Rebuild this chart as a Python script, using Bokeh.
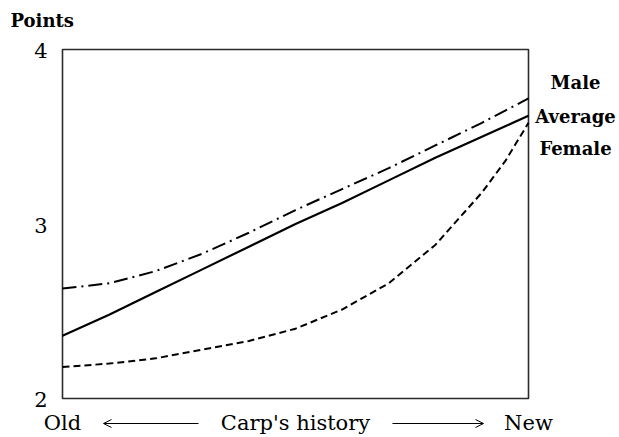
from bokeh.plotting import figure
from bokeh.models import Arrow, OpenHead, ColumnDataSource, Range1d
from bokeh.core.properties import value
from bokeh.embed import file_html
from bokeh.resources import INLINE

# position along the "Carp's history" axis (0 = Old, 1 = New)
history = [0.0, 0.1, 0.2, 0.3, 0.4, 0.5, 0.6, 0.7, 0.8, 0.9, 0.95, 1.0]
male    = [2.63, 2.66, 2.73, 2.83, 2.95, 3.08, 3.20, 3.32, 3.45, 3.58, 3.65, 3.72]
average = [2.36, 2.48, 2.61, 2.74, 2.87, 3.00, 3.12, 3.25, 3.38, 3.50, 3.56, 3.62]
female  = [2.18, 2.20, 2.23, 2.28, 2.33, 2.40, 2.51, 2.66, 2.88, 3.18, 3.36, 3.58]

y_ticks = [2, 3, 4]
y_tick_labels = ["2", "3", "4"]
x_ticks = [0.0, 0.5, 1.0]
x_tick_labels = ["Old", "Carp's history", "New"]
series_names = ["Male", "Average", "Female"]

FONT = "DejaVu Serif"

# ---- layout constants (pixels) ----
W, H = 619, 437
FRAME_L, FRAME_R, FRAME_T, FRAME_B = 62, 528, 49, 398
x0, x1 = min(x_ticks), max(x_ticks)
y0, y1 = min(y_ticks), max(y_ticks)
px_x = (FRAME_R - FRAME_L) / (x1 - x0)
px_y = (FRAME_B - FRAME_T) / (y1 - y0)
def dx(px):  # pixel column -> data x
    return x0 + (px - FRAME_L) / px_x
def dy(py):  # pixel row -> data y
    return y0 + (FRAME_B - py) / px_y

p = figure(width=W, height=H,
           x_range=Range1d(dx(0), dx(W)), y_range=Range1d(dy(H), dy(0)),
           output_backend="svg", toolbar_location=None,
           min_border=0)
p.min_border_left = p.min_border_right = p.min_border_top = p.min_border_bottom = 0
p.axis.visible = False
p.grid.visible = False
p.outline_line_color = None
p.background_fill_color = "white"
p.border_fill_color = "white"

src = ColumnDataSource(dict(x=history, male=male, average=average, female=female))

# chart box
p.quad(left=[x0], right=[x1], bottom=[y0], top=[y1], fill_color=None,
       line_color="#2b2b2b", line_width=1.6)

p.line("x", "male", source=src, line_color="black", line_width=2, line_dash="14 5 2 5")
p.line("x", "average", source=src, line_color="black", line_width=2.2)
p.line("x", "female", source=src, line_color="black", line_width=2, line_dash="7 4")

# y tick labels
p.text(x=[dx(47)] * len(y_ticks), y=y_ticks, text=y_tick_labels,
       text_font=value(FONT), text_font_size=value("21px"), text_color="black",
       text_align="right", text_baseline="middle", y_offset=1)

# x tick labels
p.text(x=x_ticks, y=[dy(422)] * len(x_ticks), text=x_tick_labels,
       text_font=value(FONT), text_font_size=value("21px"), text_color="black",
       text_align="center", text_baseline="middle")

# arrows along the bottom
arrow_y = dy(423)
p.add_layout(Arrow(end=OpenHead(size=8, line_width=1, line_color="black"),
                   x_start=dx(198), y_start=arrow_y, x_end=dx(103), y_end=arrow_y,
                   line_width=1, line_color="black"))
p.add_layout(Arrow(end=OpenHead(size=8, line_width=1, line_color="black"),
                   x_start=dx(392), y_start=arrow_y, x_end=dx(483), y_end=arrow_y,
                   line_width=1, line_color="black"))

# "Points" title
p.text(x=[dx(10)], y=[dy(20)], text=["Points"], text_font=value(FONT),
       text_font_size=value("18px"), text_font_style="bold", text_color="black",
       text_align="left", text_baseline="middle")

# series labels on the right
label_y = [dy(82), dy(116), dy(148)]
p.text(x=[dx(575)] * 3, y=label_y, text=series_names, text_font=value(FONT),
       text_font_size=value("18px"), text_font_style="bold", text_color="black",
       text_align="center", text_baseline="middle")

open("out.html", "w").write(file_html(p, INLINE))
